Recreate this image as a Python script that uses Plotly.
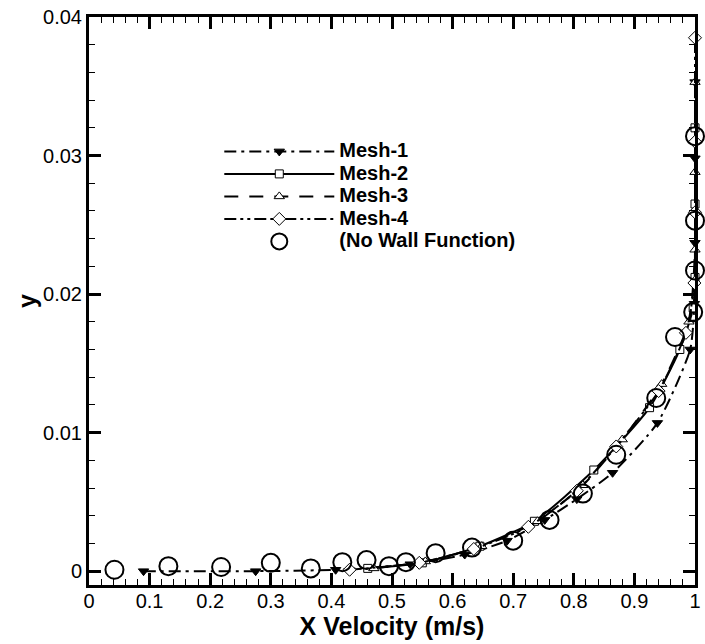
import plotly.graph_objects as go

# ---- data ----
mesh1_u = [0.09, 0.275, 0.407, 0.53, 0.62, 0.69, 0.752, 0.805, 0.864, 0.938, 0.992, 0.999, 1.0, 1.0, 1.0]
mesh1_y = [0.0, 0.0, 0.0001, 0.0005, 0.0012, 0.0022, 0.0037, 0.0052, 0.0071, 0.0107, 0.0160, 0.0193, 0.0237, 0.0298, 0.0353]

mesh2_u = [0.46, 0.55, 0.645, 0.735, 0.833, 0.925, 0.975, 0.997, 1.0, 1.0, 1.0]
mesh2_y = [0.0002, 0.0006, 0.0018, 0.0036, 0.0073, 0.0118, 0.0160, 0.0190, 0.0212, 0.0265, 0.0320]

mesh3_u = [0.47, 0.555, 0.648, 0.74, 0.815, 0.88, 0.945, 0.99, 1.0, 1.0, 1.0]
mesh3_y = [0.0002, 0.0007, 0.0018, 0.0036, 0.0062, 0.0095, 0.0135, 0.0180, 0.0232, 0.0288, 0.0353]

mesh4_u = [0.43, 0.545, 0.635, 0.725, 0.805, 0.87, 0.94, 0.985, 0.999, 1.0, 1.0, 1.0]
mesh4_y = [0.0001, 0.0006, 0.0016, 0.0032, 0.0058, 0.0090, 0.0130, 0.0172, 0.0208, 0.0259, 0.0310, 0.0385]

nwf_u = [0.042, 0.131, 0.218, 0.30, 0.366, 0.418, 0.458, 0.495, 0.523, 0.572, 0.632,
         0.70, 0.76, 0.815, 0.87, 0.936, 0.967, 0.997, 1.0, 1.0, 1.0]
nwf_y = [0.0001, 0.00036, 0.0003, 0.0006, 0.0002, 0.00065, 0.0008, 0.00036, 0.00065, 0.0013, 0.0017,
         0.0022, 0.0037, 0.0056, 0.0084, 0.0125, 0.0169, 0.0187, 0.0217, 0.0253, 0.0314]

x_ticks = [0, 0.1, 0.2, 0.3, 0.4, 0.5, 0.6, 0.7, 0.8, 0.9, 1]
x_labels = ["0", "0.1", "0.2", "0.3", "0.4", "0.5", "0.6", "0.7", "0.8", "0.9", "1"]
y_ticks = [0, 0.01, 0.02, 0.03, 0.04]
y_labels = ["0", "0.01", "0.02", "0.03", "0.04"]

FONT = "Liberation Sans, Arial, Helvetica, sans-serif"

fig = go.Figure()

def legend_name(s):
    return '<span style="font-size:20px">' + s + '</span>'

def add_mesh(u, y, name, dash, symbol, size, fill=False):
    fig.add_trace(go.Scatter(
        x=u, y=y, name=legend_name(name), mode="lines+markers",
        line=dict(color="black", width=2, dash=dash, shape="spline", smoothing=0.6),
        marker=dict(symbol=symbol, size=size, color="black" if fill else "white",
                    line=dict(color="black", width=1)),
        cliponaxis=False,
    ))

add_mesh(mesh1_u, mesh1_y, "Mesh-1", "12px,5px,3px,5px", "triangle-down", 9, fill=True)
add_mesh(mesh2_u, mesh2_y, "Mesh-2", "solid", "square", 8)
add_mesh(mesh3_u, mesh3_y, "Mesh-3", "14px,11px", "triangle-up", 9)
add_mesh(mesh4_u, mesh4_y, "Mesh-4", "12px,4px,3px,4px,3px,4px", "diamond", 10)

fig.add_trace(go.Scatter(
    x=nwf_u, y=nwf_y, name=legend_name("(No Wall Function)"), mode="markers",
    marker=dict(symbol="circle-open", size=18, color="black", line=dict(color="black", width=2)),
    cliponaxis=False,
))

axis_common = dict(
    showline=True, linecolor="black", linewidth=3, mirror="allticks",
    ticks="inside", ticklen=12, tickwidth=3, tickcolor="black",
    showgrid=False, zeroline=False,
    tickfont=dict(family=FONT, size=20, color="black"),
)

fig.update_xaxes(
    range=[0, 1], tickvals=x_ticks, ticktext=x_labels, ticklabelstandoff=-4,
    minor=dict(ticks="inside", ticklen=6, tickwidth=1, tickcolor="black", dtick=0.02, showgrid=False),
    title=dict(text="<b>X Velocity (m/s)</b>", font=dict(family=FONT, size=25, color="black"), standoff=0),
    **axis_common,
)
fig.update_yaxes(
    range=[-0.001, 0.04], tickvals=y_ticks, ticktext=y_labels,
    minor=dict(ticks="inside", ticklen=6, tickwidth=1, tickcolor="black", dtick=0.002, showgrid=False),
    title=dict(text="<b>y</b>", font=dict(family=FONT, size=25, color="black"), standoff=0),
    **axis_common,
)

fig.update_layout(
    width=705, height=644,
    margin=dict(l=89, r=4, t=17, b=59),
    paper_bgcolor="white", plot_bgcolor="white",
    legend=dict(
        x=0.215, y=0.792, xanchor="left", yanchor="top",
        bgcolor="rgba(0,0,0,0)", borderwidth=0,
        font=dict(family=FONT, size=15, color="black", weight="bold"),
        itemwidth=110, tracegroupgap=0,
    ),
    showlegend=True,
)

fig.write_html("out.html")
